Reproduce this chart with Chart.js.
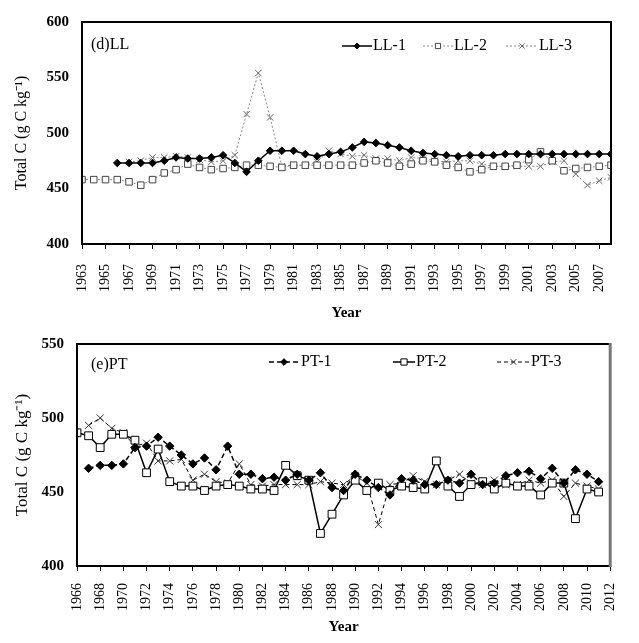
<!DOCTYPE html>
<html><head><meta charset="utf-8">
<script src="https://cdn.jsdelivr.net/npm/chart.js@4.4.0/dist/chart.umd.min.js"></script>
<style>
html,body{margin:0;padding:0;background:#fff;}
#w{position:relative;width:639px;height:643px;overflow:hidden;}
#c1{position:absolute;left:0;top:0;}
#c2{position:absolute;left:0;top:322px;}
</style></head><body>
<div id="w"><canvas id="c1" width="639" height="322"></canvas><canvas id="c2" width="639" height="321"></canvas></div>
<script>
// ---------- data: panel (d) LL ----------
const llYears = [1963,1964,1965,1966,1967,1968,1969,1970,1971,1972,1973,1974,1975,1976,1977,1978,1979,1980,1981,1982,1983,1984,1985,1986,1987,1988,1989,1990,1991,1992,1993,1994,1995,1996,1997,1998,1999,2000,2001,2002,2003,2004,2005,2006,2007,2008];
const ll1 = [null,null,null,473,473,473,473,475,478,477,477,478,480,473,465,475,484,484,484,481,479,481,483,487,492,491,489,487,484,482,481,480,479,480,480,480,481,481,481,481,481,481,481,481,481,481];
const ll2 = [458,458,458,458,456,453,458,464,467,472,469,467,468,469,471,471,470,469,471,471,471,471,471,471,473,475,473,470,472,475,474,471,469,465,467,470,470,471,476,483,475,466,468,469,470,471];
const ll3 = [null,null,null,null,474,475,478,478,479,478,476,474,475,480,517,554,514,470,471,471,474,484,481,479,480,477,477,475,478,477,475,474,475,475,472,470,470,470,470,470,474,475,463,453,457,460];
const llTicks = [1963,1965,1967,1969,1971,1973,1975,1977,1979,1981,1983,1985,1987,1989,1991,1993,1995,1997,1999,2001,2003,2005,2007];
const llYTicks = [400,450,500,550,600];

// ---------- data: panel (e) PT ----------
const ptYears = [1966,1967,1968,1969,1970,1971,1972,1973,1974,1975,1976,1977,1978,1979,1980,1981,1982,1983,1984,1985,1986,1987,1988,1989,1990,1991,1992,1993,1994,1995,1996,1997,1998,1999,2000,2001,2002,2003,2004,2005,2006,2007,2008,2009,2010,2011];
const pt1 = [null,466,468,468,469,480,481,487,481,475,469,473,465,481,462,462,459,460,458,462,458,463,453,451,462,458,453,448,459,458,455,455,458,456,462,455,456,461,463,464,459,466,456,465,462,457];
const pt2 = [490,488,480,489,489,485,463,479,457,454,454,451,454,455,454,452,452,451,468,461,458,422,435,448,458,451,456,451,454,453,452,471,454,447,455,457,452,456,454,454,448,456,456,432,452,450];
const pt3 = [null,495,500,493,490,481,483,471,471,472,458,462,457,456,469,455,454,455,455,455,455,457,456,455,461,456,428,455,456,461,457,455,458,462,456,455,458,455,455,458,456,458,447,456,454,452];
const ptTicks = [1966,1968,1970,1972,1974,1976,1978,1980,1982,1984,1986,1988,1990,1992,1994,1996,1998,2000,2002,2004,2006,2008,2010,2012];
const ptYTicks = [400,450,500,550];

const SERIF = '"Liberation Serif","Times New Roman",serif';
const pts = (xs, ys) => xs.map((x, i) => ({x: x, y: ys[i]}));

const boxPlugin = {
  id: 'box',
  afterDraw(chart, args, o) {
    const {ctx, chartArea: a} = chart;
    ctx.save();
    ctx.lineWidth = 2;
    ctx.strokeStyle = '#000';
    ctx.beginPath();
    ctx.moveTo(a.right, a.bottom); ctx.lineTo(a.left, a.bottom); ctx.lineTo(a.left, a.top); ctx.lineTo(a.right, a.top);
    ctx.stroke();
    ctx.strokeStyle = o.rightColor || '#000';
    ctx.lineWidth = o.rightWidth || 2;
    ctx.beginPath(); ctx.moveTo(a.right, a.top - 1); ctx.lineTo(a.right, a.bottom + 1); ctx.stroke();
    ctx.restore();
  }
};

const legendPlugin = {
  id: 'inLegend',
  afterDraw(chart, args, o) {
    const ctx = chart.ctx;
    ctx.save();
    ctx.font = o.font;
    ctx.fillStyle = '#000';
    ctx.textBaseline = 'middle';
    ctx.textAlign = 'left';
    ctx.fillText(o.panel, o.panelX, o.panelY);
    chart.data.datasets.forEach((ds, i) => {
      const it = o.items[i];
      ctx.strokeStyle = ds.borderColor;
      ctx.lineWidth = ds.borderWidth;
      ctx.setLineDash(ds.borderDash || []);
      ctx.beginPath(); ctx.moveTo(it[0], o.y); ctx.lineTo(it[1], o.y); ctx.stroke();
      ctx.setLineDash([]);
      ctx.fillStyle = ds.pointBackgroundColor;
      ctx.strokeStyle = ds.pointBorderColor;
      ctx.lineWidth = ds.pointBorderWidth;
      Chart.helpers.drawPoint(ctx, {pointStyle: ds.pointStyle, radius: ds.pointRadius * 0.8, borderWidth: ds.pointBorderWidth, rotation: 0}, (it[0] + it[1]) / 2, o.y);
      ctx.fillStyle = '#000';
      ctx.fillText(ds.label, it[2], o.y);
    });
    ctx.restore();
  }
};

function build(canvas, p) {
  return new Chart(canvas, {
    type: 'line',
    data: {datasets: p.datasets},
    options: {
      responsive: false,
      animation: false,
      events: [],
      layout: {padding: p.padding},
      plugins: {legend: {display: false}, tooltip: {enabled: false}, box: p.box, inLegend: p.legend},
      scales: {
        x: {
          type: 'linear', min: p.xMin, max: p.xMax,
          afterBuildTicks: s => { s.ticks = p.xTicks.map(v => ({value: v})); },
          afterFit: s => { s.height = p.xHeight; },
          grid: {drawOnChartArea: false, drawTicks: true, tickLength: 5, tickColor: '#000', color: '#000', lineWidth: 1},
          border: {display: true, color: '#000', width: 2},
          ticks: {color: '#000', font: {family: SERIF, size: 14}, minRotation: 90, maxRotation: 90, autoSkip: false, padding: p.xPad, callback: v => String(v)},
          title: {display: true, text: 'Year', color: '#000', font: {family: SERIF, size: 15, weight: 'bold'}, padding: {top: 0, bottom: p.titlePad}}
        },
        y: {
          type: 'linear', min: p.yMin, max: p.yMax,
          afterBuildTicks: s => { s.ticks = p.yTicks.map(v => ({value: v})); },
          afterFit: s => { s.width = p.yWidth; },
          grid: {display: false, drawTicks: false},
          border: {display: true, color: '#000', width: 2},
          ticks: {color: '#000', font: {family: SERIF, size: 15, weight: 'bold'}, padding: 13, callback: v => String(v)},
          title: {display: true, text: 'Total C (g C kg\u207B\u00B9)', color: '#000', font: {family: SERIF, size: p.yTitleSize}, padding: {top: 12, bottom: 0}}
        }
      }
    },
    plugins: [boxPlugin, legendPlugin]
  });
}

build(document.getElementById('c1'), {
  datasets: [
    {label: 'LL-1', data: pts(llYears, ll1), borderColor: '#000', borderWidth: 1.5, pointStyle: 'rectRot', pointRadius: 3.8, pointBackgroundColor: '#000', pointBorderColor: '#000', pointBorderWidth: 1, tension: 0},
    {label: 'LL-2', data: pts(llYears, ll2), borderColor: '#888', borderWidth: 1, borderDash: [2, 2], pointStyle: 'rect', pointRadius: 4.6, pointBackgroundColor: '#fff', pointBorderColor: '#444', pointBorderWidth: 1, tension: 0},
    {label: 'LL-3', data: pts(llYears, ll3), borderColor: '#888', borderWidth: 1, borderDash: [2, 2], pointStyle: 'crossRot', pointRadius: 4.5, pointBackgroundColor: '#777', pointBorderColor: '#666', pointBorderWidth: 1, tension: 0}
  ],
  padding: {left: 0, right: 28, top: 13, bottom: 0},
  xMin: 1963, xMax: 2008, xTicks: llTicks, xHeight: 78, xPad: 15, titlePad: 0, yTitleSize: 16,
  yMin: 400, yMax: 600, yTicks: llYTicks, yWidth: 82,
  box: {rightColor: '#000', rightWidth: 2},
  legend: {font: '16px ' + SERIF, y: 46, items: [[342, 372, 373], [423, 453, 454], [506, 538, 539]], panel: '(d)LL', panelX: 91, panelY: 45}
});

build(document.getElementById('c2'), {
  datasets: [
    {label: 'PT-1', data: pts(ptYears, pt1), borderColor: '#000', borderWidth: 1.5, borderDash: [5, 3], pointStyle: 'rectRot', pointRadius: 4.2, pointBackgroundColor: '#000', pointBorderColor: '#000', pointBorderWidth: 1, tension: 0},
    {label: 'PT-2', data: pts(ptYears, pt2), borderColor: '#000', borderWidth: 1.5, pointStyle: 'rect', pointRadius: 5.5, pointBackgroundColor: '#fff', pointBorderColor: '#000', pointBorderWidth: 1, tension: 0},
    {label: 'PT-3', data: pts(ptYears, pt3), borderColor: '#000', borderWidth: 1, borderDash: [4, 3], pointStyle: 'crossRot', pointRadius: 5, pointBackgroundColor: '#000', pointBorderColor: '#333', pointBorderWidth: 1, tension: 0}
  ],
  padding: {left: 0, right: 24, top: 14, bottom: 0},
  xMin: 1966, xMax: 2012, xTicks: ptTicks, xHeight: 77, xPad: 12, titlePad: 7, yTitleSize: 17,
  yMin: 400, yMax: 550, yTicks: ptYTicks, yWidth: 77,
  box: {rightColor: '#777', rightWidth: 3},
  legend: {font: '16px ' + SERIF, y: 40, items: [[269, 299, 301], [393, 415, 416], [497, 530, 531]], panel: '(e)PT', panelX: 91, panelY: 43}
});
</script>
</body></html>
